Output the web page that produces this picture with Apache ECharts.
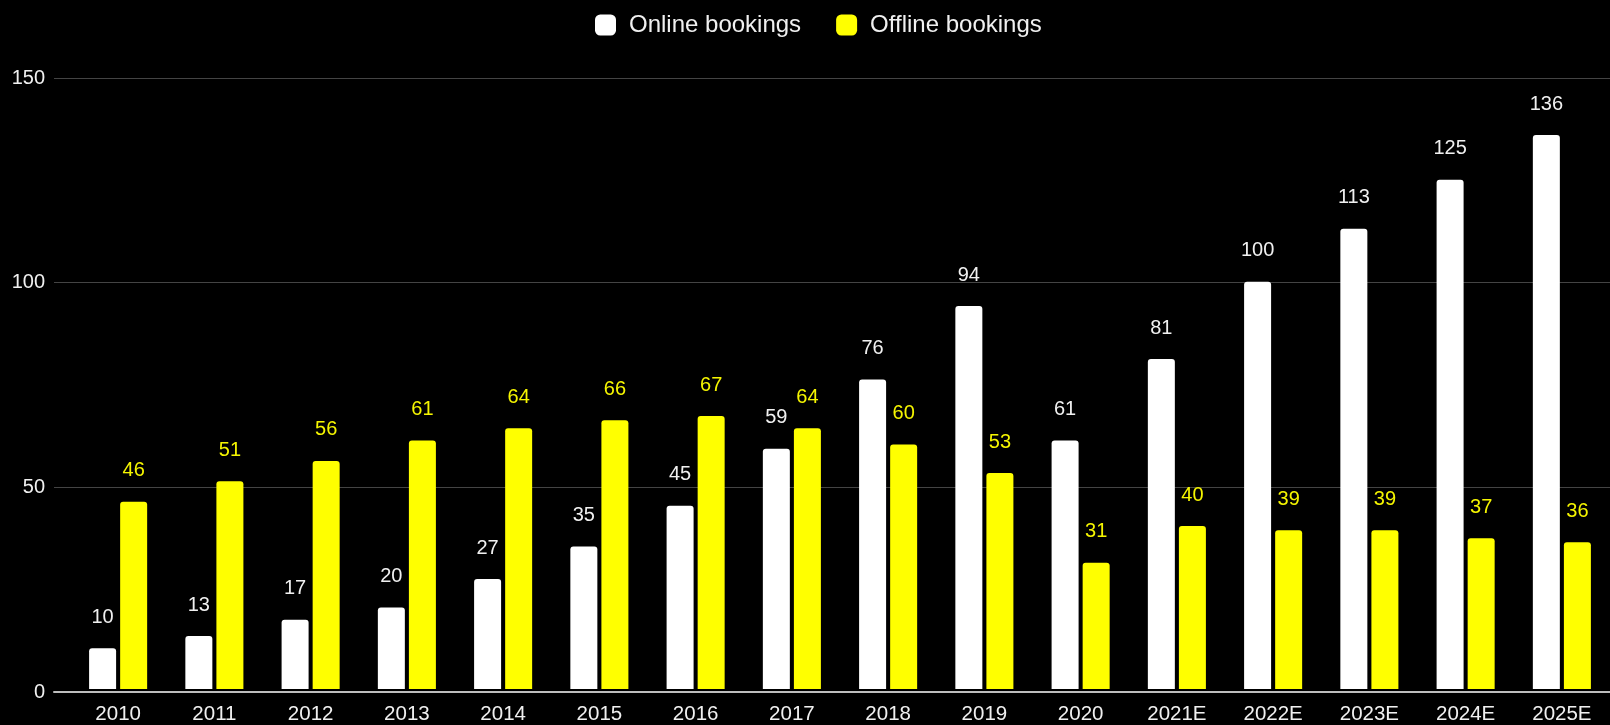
<!DOCTYPE html>
<html>
<head>
<meta charset="utf-8">
<style>
html,body{margin:0;padding:0;background:#000;}
#c{width:1610px;height:725px;}
</style>
<script src="https://cdn.jsdelivr.net/npm/echarts@6/dist/echarts.min.js"></script>
</head>
<body>
<div id="c"></div>
<script>
var categories = ['2010','2011','2012','2013','2014','2015','2016','2017','2018','2019','2020','2021E','2022E','2023E','2024E','2025E'];
var onlineBookings = [10,13,17,20,27,35,45,59,76,94,61,81,100,113,125,136];
var offlineBookings = [46,51,56,61,64,66,67,64,60,53,31,40,39,39,37,36];
var yTicks = [0,50,100,150];

var FONT = '"Liberation Sans", Arial, sans-serif';
var chart = echarts.init(document.getElementById('c'), null, {renderer:'canvas'});
chart.setOption({
  backgroundColor: '#000',
  animation: false,
  textStyle: {fontFamily: FONT},
  legend: {
    left: 590, top: 8,
    itemWidth: 21, itemHeight: 21, itemGap: 35,
    icon: 'roundRect',
    textStyle: {color: '#f0f0f0', fontSize: 24, fontFamily: FONT, padding: [0,0,0,8]},
    data: ['Online bookings','Offline bookings']
  },
  grid: [
    {left: 54, right: 0, top: 78, bottom: 33},
    {left: 70, right: 0, top: 78, bottom: 33}
  ],
  xAxis: [
    {gridIndex: 0, type: 'category', data: categories,
     axisLine: {show: true, lineStyle: {color: '#bdbdbd', width: 2}},
     axisTick: {show: false}, axisLabel: {show: false}, splitLine: {show: false}},
    {gridIndex: 1, type: 'category', data: categories,
     axisLine: {show: false}, axisTick: {show: false},
     axisLabel: {color: '#f0f0f0', fontSize: 20.5, fontFamily: FONT, margin: 15}}
  ],
  yAxis: [
    {gridIndex: 0, type: 'value', min: yTicks[0], max: yTicks[yTicks.length-1], interval: 50,
     axisLine: {show: false}, axisTick: {show: false},
     axisLabel: {color: '#f0f0f0', fontSize: 20, fontFamily: FONT, margin: 9},
     splitLine: {lineStyle: {color: '#444', width: 1}}},
    {gridIndex: 1, type: 'value', min: yTicks[0], max: yTicks[yTicks.length-1], interval: 50,
     axisLine: {show: false}, axisTick: {show: false}, axisLabel: {show: false},
     splitLine: {show: false}}
  ],
  series: [
    {name: 'Online bookings', type: 'bar', xAxisIndex: 1, yAxisIndex: 1,
     data: onlineBookings, barWidth: 27, barGap: '15%',
     itemStyle: {color: '#ffffff', borderRadius: [3,3,0,0]},
     label: {show: true, position: 'top', distance: 21, color: '#f0f0f0', fontSize: 20, fontFamily: FONT}},
    {name: 'Offline bookings', type: 'bar', xAxisIndex: 1, yAxisIndex: 1,
     data: offlineBookings, barWidth: 27, barGap: '15%',
     itemStyle: {color: '#ffff00', borderRadius: [3,3,0,0]},
     label: {show: true, position: 'top', distance: 21, color: '#f5f500', fontSize: 20, fontFamily: FONT}}
  ]
});
</script>
</body>
</html>
